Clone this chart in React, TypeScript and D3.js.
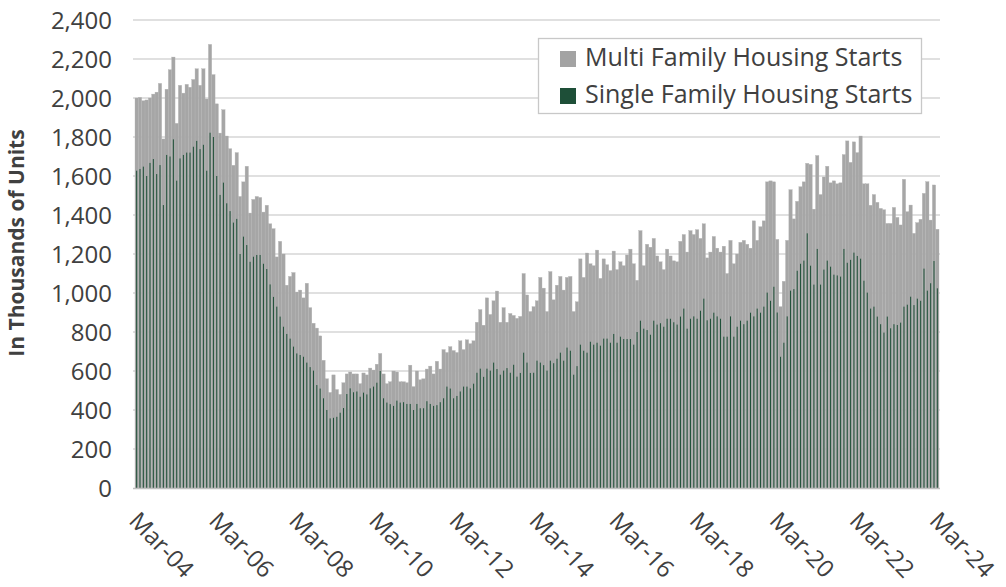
import React, { useRef, useEffect } from "react";
import * as d3 from "d3";

// monthly housing starts, Mar-04 .. Mar-24 (thousands of units, SAAR)
const totalStarts = [
  // 2004 (Mar-Dec)
  2000, 2003, 1986, 1990, 2000, 2020, 2030, 2075, 1790, 2045,
  // 2005
  2145, 2210, 1870, 2065, 2025, 2070, 2055, 2095, 2150, 2065, 2150, 1995,
  // 2006
  2275, 2120, 1970, 1820, 1940, 1805, 1740, 1655, 1720, 1495, 1570, 1650,
  // 2007
  1410, 1480, 1495, 1490, 1415, 1450, 1355, 1330, 1185, 1265, 1200, 1040,
  // 2008
  1085, 1105, 1005, 1015, 975, 1050, 925, 845, 820, 780, 655, 560,
  // 2009
  490, 580, 505, 480, 540, 585, 595, 585, 585, 535, 590, 580,
  // 2010
  615, 605, 635, 690, 585, 535, 545, 600, 595, 545, 545, 540,
  // 2011
  630, 520, 600, 555, 560, 610, 625, 585, 650, 610, 710, 695,
  // 2012
  725, 705, 695, 755, 710, 760, 740, 755, 850, 915, 835, 975,
  // 2013
  890, 960, 1010, 850, 925, 850, 895, 885, 870, 880, 1100, 990,
  // 2014
  905, 930, 960, 1080, 1025, 905, 1110, 965, 1040, 1085, 1015, 1080,
  // 2015
  1085, 905, 955, 1175, 1080, 1205, 1150, 1140, 1220, 1075, 1175, 1145,
  // 2016
  1115, 1215, 1120, 1160, 1140, 1195, 1225, 1150, 1065, 1320, 1140, 1250,
  // 2017
  1235, 1280, 1190, 1160, 1120, 1225, 1190, 1165, 1160, 1265, 1300, 1210,
  // 2018
  1320, 1300, 1325, 1280, 1355, 1180, 1210, 1290, 1230, 1210, 1240, 1100,
  // 2019
  1270, 1150, 1200, 1260, 1270, 1250, 1230, 1370, 1270, 1340, 1370, 1570,
  // 2020
  1575, 1570, 1275, 930, 1060, 1270, 1530, 1380, 1470, 1545, 1570, 1665,
  // 2021
  1660, 1430, 1705, 1505, 1595, 1650, 1565, 1575, 1560, 1565, 1710, 1780,
  // 2022
  1670, 1775, 1720, 1805, 1560, 1560, 1450, 1505, 1465, 1434, 1427, 1357,
  // 2023
  1357, 1439, 1388, 1349, 1583, 1417, 1451, 1306, 1361, 1378, 1511, 1571,
  // 2024 (Jan-Mar)
  1374, 1554, 1327
];

const singleStarts = [
  1627, 1636, 1648, 1600, 1667, 1687, 1610, 1656, 1451, 1708,
  1700, 1788, 1576, 1690, 1708, 1720, 1720, 1750, 1780, 1738, 1760, 1627,
  1822, 1800, 1600, 1503, 1566, 1460, 1420, 1361, 1380, 1200, 1289, 1246,
  1160, 1186, 1195, 1195, 1150, 1123, 1044, 980, 930, 879, 827, 790,
  766, 725, 690, 682, 673, 643, 620, 602, 528, 510, 460, 400,
  357, 360, 365, 386, 410, 482, 511, 491, 495, 468, 489, 480,
  511, 520, 540, 600, 460, 438, 430, 421, 448, 438, 440, 431,
  431, 400, 431, 409, 409, 445, 431, 421, 425, 440, 460, 520,
  510, 460, 472, 495, 520, 520, 511, 535, 591, 612, 570, 612,
  602, 643, 610, 581, 602, 615, 591, 632, 571, 590, 694, 643,
  590, 591, 653, 643, 630, 602, 653, 640, 663, 694, 653, 720,
  704, 581, 625, 735, 704, 694, 750, 735, 745, 730, 766, 766,
  745, 790, 745, 776, 764, 764, 764, 735, 800, 858, 817, 810,
  786, 858, 838, 845, 827, 868, 868, 850, 838, 879, 920, 817,
  868, 880, 868, 909, 971, 860, 868, 899, 880, 868, 776, 776,
  880, 776, 827, 858, 840, 858, 899, 880, 920, 899, 930, 1002,
  960, 1032, 900, 673, 745, 880, 1012, 1020, 1114, 1150, 1166, 1306,
  1140, 1043, 1226, 1043, 1120, 1166, 1135, 1094, 1090, 1084, 1226, 1155,
  1170, 1207, 1190, 1176, 1063, 1002, 920, 930, 879, 840, 797, 879,
  819, 840, 836, 848, 930, 940, 981, 938, 971, 960, 1125, 1012,
  1050, 1164, 1024
];

const monthLabels = totalStarts.map((_, i) =>
  d3.timeFormat("%b-%y")(new Date(2004, 2 + i, 1))
);

const tickLabels = [
  "Mar-04", "Mar-06", "Mar-08", "Mar-10", "Mar-12", "Mar-14",
  "Mar-16", "Mar-18", "Mar-20", "Mar-22", "Mar-24"
];

const yTicks = [0, 200, 400, 600, 800, 1000, 1200, 1400, 1600, 1800, 2000, 2200, 2400];

const legendItems = [
  { label: "Multi Family Housing Starts", color: "#a3a3a3" },
  { label: "Single Family Housing Starts", color: "#1e4f38" }
];

const App = () => {
  const svgRef = useRef(null);
  const width = 1006;
  const height = 587;

  useEffect(() => {
    const svg = d3.select(svgRef.current);
    svg.selectAll("*").remove();

    const font = "'Open Sans', sans-serif";
    const textColor = "#404040";

    const x = d3.scaleBand()
      .domain(monthLabels)
      .range([135, 939])
      .padding(0);

    const y = d3.scaleLinear()
      .domain([0, 2400])
      .range([488, 20]);

    // gridlines
    svg.append("g")
      .selectAll("line")
      .data(yTicks.filter(t => t > 0))
      .join("line")
      .attr("x1", 133)
      .attr("x2", 940)
      .attr("y1", d => y(d))
      .attr("y2", d => y(d))
      .attr("stroke", "#d6d6d6")
      .attr("stroke-width", 1.4);

    // y tick labels
    svg.append("g")
      .selectAll("text")
      .data(yTicks)
      .join("text")
      .attr("x", 112)
      .attr("y", d => y(d))
      .attr("dy", "0.36em")
      .attr("text-anchor", "end")
      .attr("font-family", font)
      .attr("font-size", 24)
      .attr("fill", textColor)
      .text(d => d3.format(",")(d));

    // y title
    svg.append("text")
      .attr("transform", "translate(24,243) rotate(-90)")
      .attr("text-anchor", "middle")
      .attr("font-family", font)
      .attr("font-size", 21)
      .attr("font-weight", "bold")
      .attr("fill", textColor)
      .text("In Thousands of Units");

    const rows = monthLabels.map((m, i) => ({
      month: m,
      total: totalStarts[i],
      single: singleStarts[i]
    }));

    // full column in gray (multi family sits on top of single family)
    svg.append("g")
      .selectAll("rect")
      .data(rows)
      .join("rect")
      .attr("x", d => x(d.month))
      .attr("width", x.bandwidth())
      .attr("y", d => y(d.total))
      .attr("height", d => y(0) - y(d.total))
      .attr("fill", "#a6a6a6")
      .attr("stroke", "#b4b4b4")
      .attr("stroke-width", 0.35);

    // single family, thin core of each column
    svg.append("g")
      .selectAll("rect")
      .data(rows)
      .join("rect")
      .attr("x", d => x(d.month) + x.bandwidth() / 2 - 0.5)
      .attr("width", 1.0)
      .attr("y", d => y(d.single))
      .attr("height", d => y(0) - y(d.single))
      .attr("fill", "#1e5038");

    // x axis line
    svg.append("line")
      .attr("x1", 133)
      .attr("x2", 940)
      .attr("y1", y(0) + 0.5)
      .attr("y2", y(0) + 0.5)
      .attr("stroke", "#bfbfbf")
      .attr("stroke-width", 1.5);

    // x tick labels
    svg.append("g")
      .selectAll("text")
      .data(tickLabels)
      .join("text")
      .attr("transform", d =>
        `translate(${x(d) + x.bandwidth() / 2 - 9},${522}) rotate(46)`)
      .attr("font-family", font)
      .attr("font-size", 24)
      .attr("fill", textColor)
      .text(d => d);

    // legend
    const legend = svg.append("g");
    legend.append("rect")
      .attr("x", 538.5)
      .attr("y", 38.5)
      .attr("width", 383)
      .attr("height", 75)
      .attr("fill", "#ffffff")
      .attr("stroke", "#c8c8c8")
      .attr("stroke-width", 1.3);

    const items = legend.selectAll("g.item")
      .data(legendItems)
      .join("g")
      .attr("class", "item")
      .attr("transform", (d, i) => `translate(0,${i * 37})`);

    items.append("rect")
      .attr("x", 560)
      .attr("y", 51)
      .attr("width", 16)
      .attr("height", 16)
      .attr("fill", d => d.color);

    items.append("text")
      .attr("x", 585)
      .attr("y", 66)
      .attr("font-family", font)
      .attr("font-size", 25)
      .attr("fill", textColor)
      .text(d => d.label);
  }, []);

  return (
    <div style={{ position: "absolute", left: 0, top: 0, width, height, background: "#fff" }}>
      <svg ref={svgRef} width={width} height={height} />
    </div>
  );
};

export default App;
